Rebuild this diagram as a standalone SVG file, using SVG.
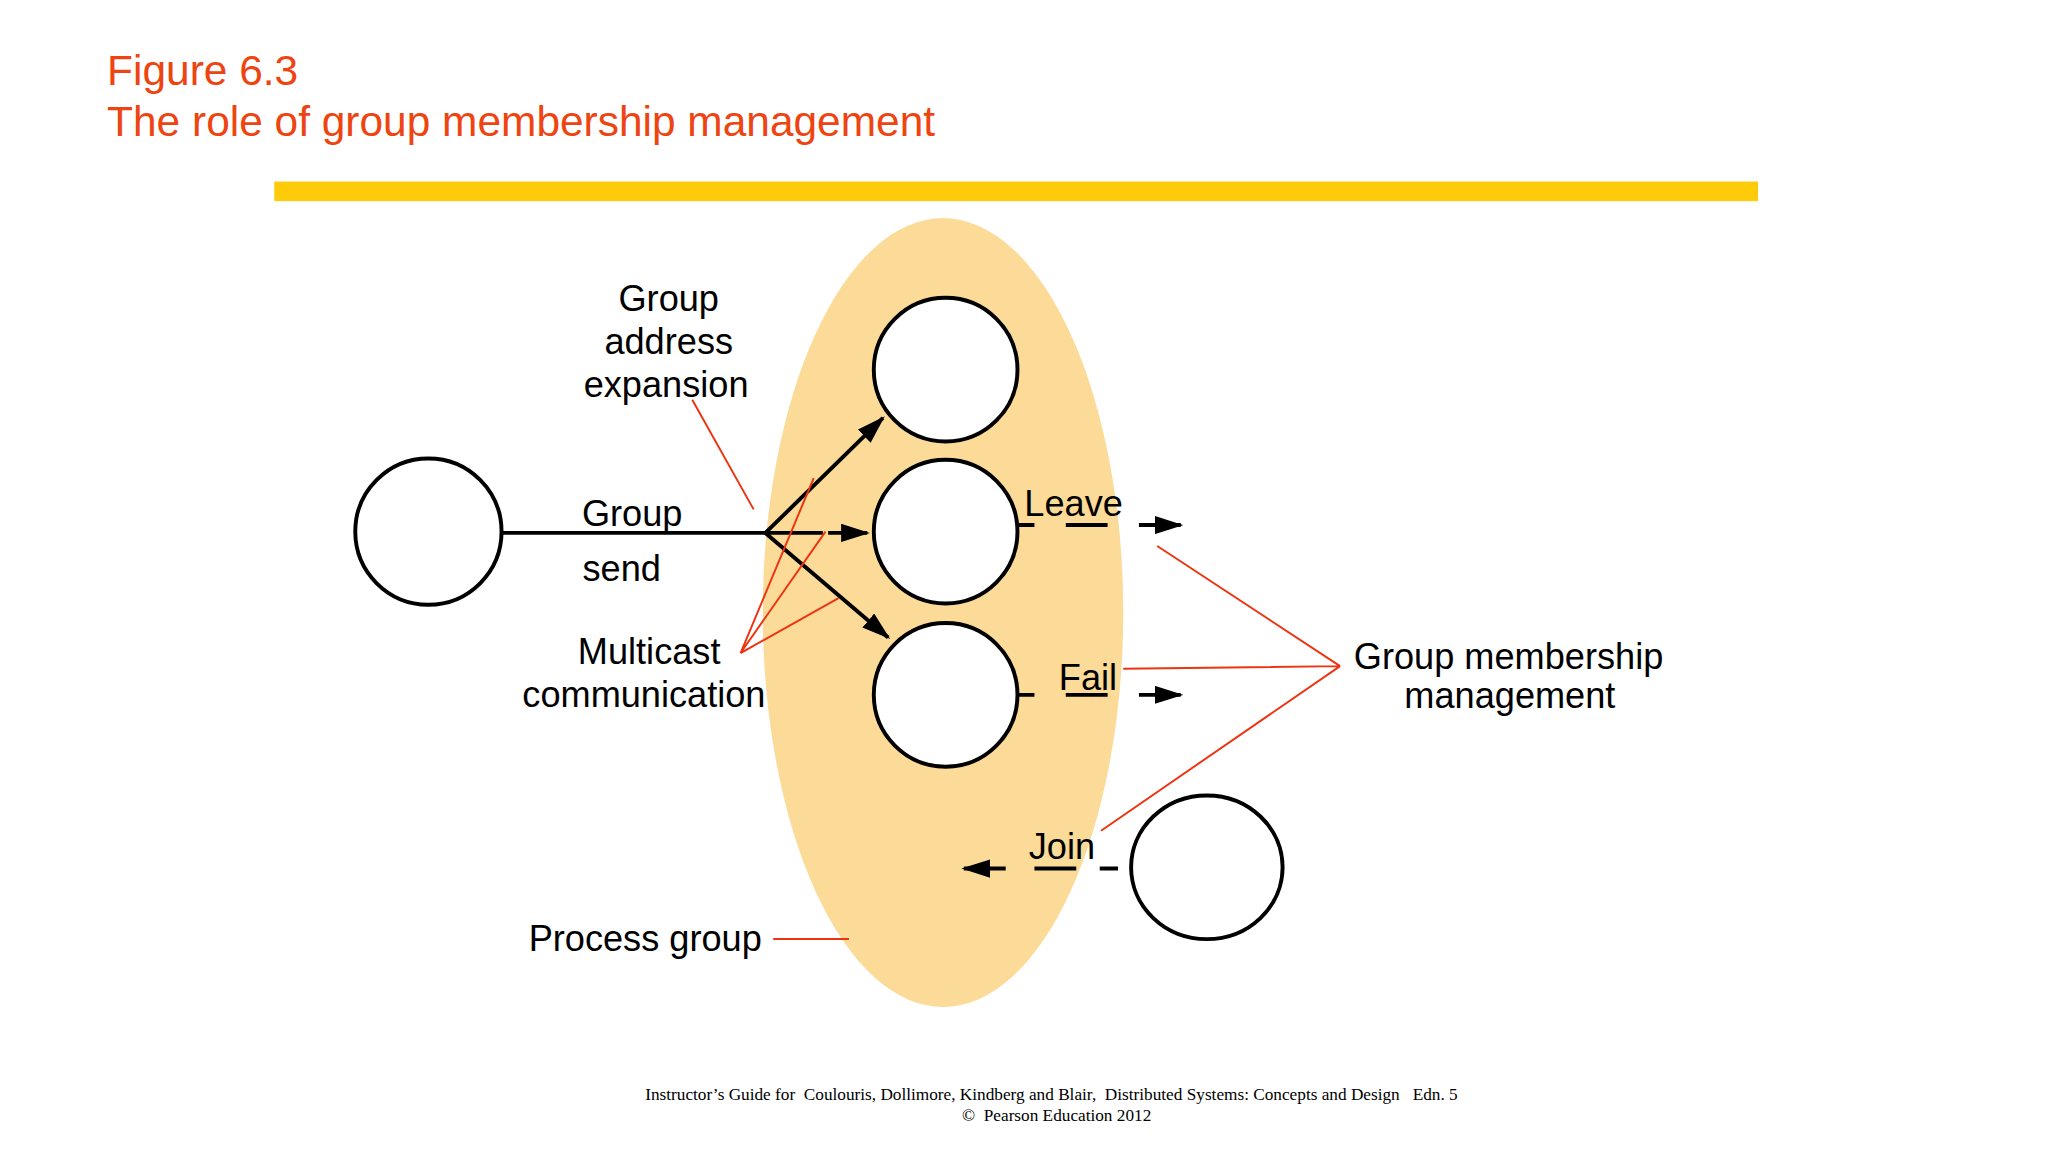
<svg xmlns="http://www.w3.org/2000/svg" width="2048" height="1152" viewBox="0 0 2048 1152">
<style>
.t{font-family:"Liberation Sans",Arial,sans-serif;font-size:27.7px;fill:#000;text-anchor:middle}
.ti{font-family:"Liberation Sans",Arial,sans-serif;font-size:32.5px;fill:#ee4411}
.f{font-family:"Liberation Serif","Times New Roman",serif;font-size:13.2px;fill:#000;text-anchor:middle;white-space:pre}
.c{fill:#fff;stroke:#000;stroke-width:3}
.k{stroke:#000;stroke-width:3;fill:none}
.r{stroke:#ee3311;stroke-width:1.5;fill:none}
</style>
<defs>
<marker id="b" markerWidth="22" markerHeight="14" refX="20" refY="7" orient="auto" markerUnits="userSpaceOnUse"><path d="M0,0L22,7L0,14z" fill="#000"/></marker></defs>
<rect width="2048" height="1152" fill="#fff"/>
<g transform="scale(1.30612)">
<text class="ti" x="82" y="65">Figure 6.3</text>
<text class="ti" x="82" y="104">The role of group membership management</text>
<rect x="210" y="139" width="1136" height="15" fill="#fecb0a"/>
<g id="process-group"><ellipse cx="722" cy="469" rx="138" ry="302" fill="#fcdb98"/></g>
<g id="sender"><circle class="c" cx="328" cy="407" r="56"/></g>
<g id="p1"><circle class="c" cx="724" cy="283" r="55"/></g>
<g id="p2"><circle class="c" cx="724" cy="407" r="55"/></g>
<g id="p3"><circle class="c" cx="724" cy="532" r="55"/></g>
<g id="joiner"><ellipse class="c" cx="924" cy="664" rx="58" ry="55"/></g>
<g id="connectors">
<path class="k" d="M384,408H586"/>
<path class="k" d="M586,408L676,320" marker-end="url(#b)"/>
<path class="k" d="M586,408H630M634,408H664" marker-end="url(#b)"/>
<path class="k" d="M586,408L680,488" marker-end="url(#b)"/>
<path class="k" d="M780,402H792M816,402H848"/><path class="k" d="M872,402H904" marker-end="url(#b)"/>
<path class="k" d="M780,532H792M816,532H848"/><path class="k" d="M872,532H904" marker-end="url(#b)"/>
<path class="k" d="M856,665H842M824,665H792"/><path class="k" d="M770,665H738" marker-end="url(#b)"/>
<path class="r" d="M530,306L577,390M567,500L623,366M567,500L632,407M567,500L642,458M1026,510L886,418M1026,510L860,512M1026,510L843,636M592,719H650"/>
</g>
<g id="labels">
<text class="t" x="512" y="238">Group</text>
<text class="t" x="512" y="271">address</text>
<text class="t" x="510" y="304">expansion</text>
<text class="t" x="484" y="403">Group</text>
<text class="t" x="476" y="445">send</text>
<text class="t" x="497" y="508">Multicast</text>
<text class="t" x="493" y="541">communication</text>
<text class="t" x="822" y="395">Leave</text>
<text class="t" x="833" y="528">Fail</text>
<text class="t" x="813" y="658">Join</text>
<text class="t" x="1155" y="512">Group membership</text>
<text class="t" x="1156" y="542">management</text>
<text class="t" x="494" y="728">Process group</text>
</g>
<text class="f" x="805" y="842" xml:space="preserve">Instructor’s Guide for  Coulouris, Dollimore, Kindberg and Blair,  Distributed Systems: Concepts and Design   Edn. 5</text>
<text class="f" x="809" y="858" xml:space="preserve">©  Pearson Education 2012</text>
</g>
</svg>
